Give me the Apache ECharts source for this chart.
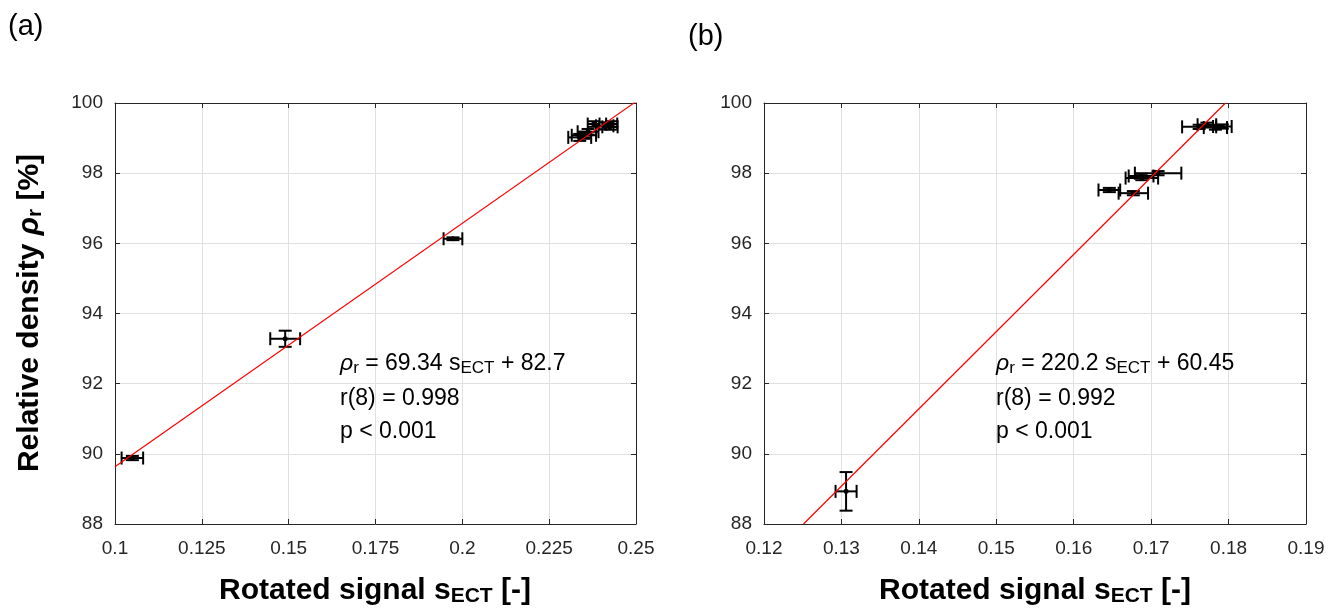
<!DOCTYPE html>
<html>
<head>
<meta charset="utf-8">
<script src="https://cdn.jsdelivr.net/npm/echarts@6/dist/echarts.min.js"></script>
<style>
html, body { margin: 0; padding: 0; background: #fff; }
#main { width: 1341px; height: 614px; }
</style>
</head>
<body>
<div id="main"></div>
<script>
// (a) signal, density and their errors
var sigA = [0.1050, 0.1490, 0.1973, 0.2338, 0.2350, 0.2362, 0.2378, 0.2410, 0.2425, 0.2430];
var rhoA = [89.88, 93.28, 96.13, 99.02, 99.08, 99.18, 99.40, 99.35, 99.32, 99.40];
var sigErrA = [0.0031, 0.0043, 0.0027, 0.0033, 0.0035, 0.0030, 0.0017, 0.0025, 0.0022, 0.0016];
var rhoErrA = [0.06, 0.23, 0.04, 0.10, 0.10, 0.08, 0.08, 0.10, 0.08, 0.08];
var fitA = [[0.1, 89.63], [0.25, 100.04]];

// (b)
var sigB = [0.1306, 0.1762, 0.1772, 0.1783, 0.1792, 0.1709, 0.1688, 0.1687, 0.1646, 0.1677];
var rhoB = [88.93, 99.32, 99.38, 99.30, 99.33, 98.00, 97.86, 97.92, 97.52, 97.43];
var sigErrB = [0.00136, 0.0022, 0.0012, 0.0015, 0.0012, 0.0030, 0.0021, 0.0016, 0.0014, 0.0019];
var rhoErrB = [0.55, 0.06, 0.06, 0.06, 0.06, 0.06, 0.06, 0.06, 0.06, 0.06];
var fitB = [[0.1251, 88], [0.1796, 100]];

var xTicksA = { min: 0.1, max: 0.25, interval: 0.025, digits: 3 };
var xTicksB = { min: 0.12, max: 0.19, interval: 0.01, digits: 2 };
var yTicks = { min: 88, max: 100, interval: 2 };

var FONT = 'Liberation Sans, Arial, Helvetica, sans-serif';
var AX = '#262626';

function pack(s, r, es, er) {
    var out = [];
    for (var i = 0; i < s.length; i++) out.push([s[i], r[i], es[i], er[i]]);
    return out;
}

// error bar in both directions, matlab style
function errorBars(params, api) {
    var x = api.value(0), y = api.value(1), ex = api.value(2), ey = api.value(3);
    var c = api.coord([x, y]);
    var l = api.coord([x - ex, y]), r = api.coord([x + ex, y]);
    var t = api.coord([x, y + ey]), b = api.coord([x, y - ey]);
    var cap = 6.5;
    var st = { stroke: '#000', lineWidth: 2 };
    function seg(x1, y1, x2, y2) {
        return { type: 'line', shape: { x1: x1, y1: y1, x2: x2, y2: y2 }, style: st };
    }
    return {
        type: 'group',
        children: [
            seg(l[0], c[1], r[0], c[1]),
            seg(l[0], c[1] - cap, l[0], c[1] + cap),
            seg(r[0], c[1] - cap, r[0], c[1] + cap),
            seg(c[0], t[1], c[0], b[1]),
            seg(c[0] - cap, t[1], c[0] + cap, t[1]),
            seg(c[0] - cap, b[1], c[0] + cap, b[1]),
            { type: 'circle', shape: { cx: c[0], cy: c[1], r: 2.5 }, style: { fill: '#000' } }
        ]
    };
}

function xAxes(g, t) {
    return [{
        type: 'value', gridIndex: g, position: 'bottom',
        min: t.min, max: t.max, interval: t.interval,
        axisLine: { show: true, lineStyle: { color: AX } },
        axisTick: { inside: true, length: 5, lineStyle: { color: AX } },
        axisLabel: {
            color: AX, fontSize: 19, fontFamily: FONT, margin: 15,
            formatter: function (v) { return String(+v.toFixed(t.digits)); }
        },
        splitLine: { show: true, lineStyle: { color: '#e0e0e0' } }
    }, {
        type: 'value', gridIndex: g, position: 'top',
        min: t.min, max: t.max, interval: t.interval,
        axisLine: { show: true, lineStyle: { color: AX } },
        axisTick: { inside: true, length: 5, lineStyle: { color: AX } },
        axisLabel: { show: false },
        splitLine: { show: false }
    }];
}

function yAxes(g) {
    return [{
        type: 'value', gridIndex: g, position: 'left',
        min: yTicks.min, max: yTicks.max, interval: yTicks.interval,
        axisLine: { show: true, lineStyle: { color: AX } },
        axisTick: { inside: true, length: 5, lineStyle: { color: AX } },
        axisLabel: { color: AX, fontSize: 19, fontFamily: FONT, margin: 12 },
        splitLine: { show: true, lineStyle: { color: '#e0e0e0' } }
    }, {
        type: 'value', gridIndex: g, position: 'right',
        min: yTicks.min, max: yTicks.max, interval: yTicks.interval,
        axisLine: { show: true, lineStyle: { color: AX } },
        axisTick: { inside: true, length: 5, lineStyle: { color: AX } },
        axisLabel: { show: false },
        splitLine: { show: false }
    }];
}

var txtRich = {
    m: { fontSize: 23, fontFamily: FONT, lineHeight: 26, color: '#000' },
    g: { fontSize: 23, fontFamily: FONT, fontStyle: 'italic', lineHeight: 26, color: '#000' },
    s: { fontSize: 17, fontFamily: FONT, lineHeight: 17, padding: [18, 0, 0, 0], verticalAlign: 'bottom', color: '#000' }
};
var titleRich = {
    m: { fontSize: 30, fontFamily: FONT, fontWeight: 'bold', lineHeight: 32, color: '#000' },
    g: { fontSize: 30, fontFamily: FONT, fontWeight: 'bold', fontStyle: 'italic', lineHeight: 32, color: '#000' },
    s: { fontSize: 21, fontFamily: FONT, fontWeight: 'bold', lineHeight: 21, padding: [21, 0, 0, 0], verticalAlign: 'bottom', color: '#000' }
};

function label(x, y, text, rich, align) {
    return {
        type: 'text', x: x, y: y, z: 100,
        style: { text: text, rich: rich, align: align || 'left', verticalAlign: 'middle', fill: '#000' }
    };
}

function statText(x, slope, inter, r) {
    return [
        label(x, 364, '{g|ρ}{s|r}{m| = ' + slope + ' s}{s|ECT}{m| + ' + inter + '}', txtRich),
        label(x, 399, '{m|r(8) = ' + r + '}', txtRich),
        label(x, 432, '{m|p < 0.001}', txtRich)
    ];
}

var chart = echarts.init(document.getElementById('main'));
var option = {
    backgroundColor: '#fff',
    animation: false,
    grid: [
        { left: 115, top: 103, width: 521, height: 421 },
        { left: 764, top: 103, width: 542, height: 421 }
    ],
    xAxis: xAxes(0, xTicksA).concat(xAxes(1, xTicksB)),
    yAxis: yAxes(0).concat(yAxes(1)),
    series: [{
        type: 'custom', xAxisIndex: 0, yAxisIndex: 0, z: 3,
        renderItem: errorBars, data: pack(sigA, rhoA, sigErrA, rhoErrA)
    }, {
        type: 'line', xAxisIndex: 0, yAxisIndex: 0, z: 5, symbol: 'none', clip: true,
        lineStyle: { color: '#ff0000', width: 1.2 }, data: fitA
    }, {
        type: 'custom', xAxisIndex: 2, yAxisIndex: 2, z: 3,
        renderItem: errorBars, data: pack(sigB, rhoB, sigErrB, rhoErrB)
    }, {
        type: 'line', xAxisIndex: 2, yAxisIndex: 2, z: 5, symbol: 'none', clip: true,
        lineStyle: { color: '#ff0000', width: 1.2 }, data: fitB
    }],
    graphic: [
        { type: 'text', left: 8, top: 12, style: { text: '(a)', fontSize: 29, fontFamily: FONT, fill: '#000' } },
        { type: 'text', left: 688, top: 22, style: { text: '(b)', fontSize: 29, fontFamily: FONT, fill: '#000' } },
        label(375, 591, '{m|Rotated signal s}{s|ECT}{m| [-]}', titleRich, 'center'),
        label(1035, 591, '{m|Rotated signal s}{s|ECT}{m| [-]}', titleRich, 'center'),
        {
            type: 'text', x: 30, y: 313, rotation: Math.PI / 2, z: 100,
            style: { text: '{m|Relative density }{g|ρ}{s|r}{m| [%]}', rich: titleRich, align: 'center', verticalAlign: 'middle' }
        }
    ].concat(statText(340, '69.34', '82.7', '0.998'))
     .concat(statText(996, '220.2', '60.45', '0.992'))
};
chart.setOption(option);
</script>
</body>
</html>
